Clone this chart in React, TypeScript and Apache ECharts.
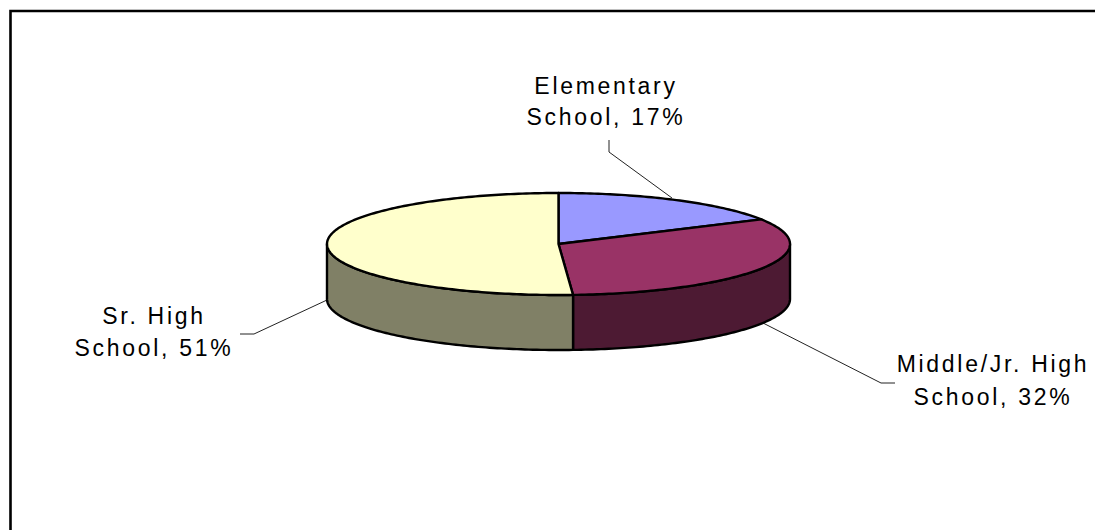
import React, { useEffect, useRef } from "react";
import * as echarts from "echarts";

// Share of each school level, in percent, clockwise from twelve o'clock.
const levels = ["Elementary School", "Middle/Jr. High School", "Sr. High School"];
const shares = [17, 32, 51];
const topColors = ["#9999FF", "#993366", "#FFFFCC"];
const sideColors = ["#4D4D80", "#4D1A33", "#808066"];
const labelLines = [
  ["Elementary", "School, 17%"],
  ["Middle/Jr. High", "School, 32%"],
  ["Sr. High", "School, 51%"],
];

// Tilted disc geometry.
const CX = 558.5;
const CY = 244;
const RX = 231.5;
const RY = 51;
const DEPTH = 55;

const rimPoint = (deg: number, drop = 0) => {
  const a = (deg * Math.PI) / 180;
  return [CX + RX * Math.sin(a), CY - RY * Math.cos(a) + drop];
};

const arcPoints = (from: number, to: number, drop = 0) => {
  const out: number[][] = [];
  const steps = Math.max(2, Math.ceil(Math.abs(to - from)));
  for (let i = 0; i <= steps; i++) out.push(rimPoint(from + ((to - from) * i) / steps, drop));
  return out;
};

const total = shares.reduce((s, v) => s + v, 0);

const renderSlice = (params: any, api: any) => {
  const i = params.dataIndex;
  const value = api.value(1);
  const before = shares.slice(0, i).reduce((s, v) => s + v, 0);
  const start = (before / total) * 360;
  const end = ((before + value) / total) * 360;
  const children: any[] = [];

  // The wall is visible only on the near half of the rim (90° to 270°).
  const wallFrom = Math.max(start, 90);
  const wallTo = Math.min(end, 270);
  if (wallTo > wallFrom) {
    const points = [...arcPoints(wallFrom, wallTo), ...arcPoints(wallTo, wallFrom, DEPTH)];
    children.push({
      type: "polygon",
      shape: { points },
      style: { fill: sideColors[i], stroke: "#000", lineWidth: 2.4, lineJoin: "round" },
    });
  }
  children.push({
    type: "polygon",
    shape: { points: [[CX, CY], ...arcPoints(start, end)] },
    style: { fill: topColors[i], stroke: "#000", lineWidth: 2.4, lineJoin: "round" },
  });
  return { type: "group", children };
};

// Leader lines and their two-line captions, in slice order.
const leaders = [
  { points: [[609, 140], [609, 152], [672, 198]], x: 606, y: [86, 117] },
  { points: [[763, 323], [881, 383], [895, 383]], x: 993, y: [364, 397] },
  { points: [[327, 300], [254, 334], [240, 334]], x: 154, y: [316, 348] },
];

const App = () => {
  const ref = useRef<HTMLDivElement>(null);
  useEffect(() => {
    const chart = echarts.init(ref.current!, undefined, { renderer: "svg" });
    const graphics: any[] = [
      // Chart frame: only the top and left edges fall inside the window.
      { type: "polyline", silent: true, shape: { points: [[10.5, 530], [10.5, 11], [1095, 11]] }, style: { fill: "none", stroke: "#000", lineWidth: 2.6 } },
    ];
    leaders.forEach((l, i) => {
      graphics.push({ type: "polyline", silent: true, shape: { points: l.points }, style: { fill: "none", stroke: "#222", lineWidth: 1 } });
      labelLines[i].forEach((line, k) => {
        graphics.push({
          type: "text",
          silent: true,
          x: l.x,
          y: l.y[k],
          style: { text: line, fill: "#000", font: '23px "Liberation Sans", Arial, sans-serif', textAlign: "center", textVerticalAlign: "middle" },
        });
      });
    });
    chart.setOption({
      animation: false,
      backgroundColor: "#fff",
      graphic: graphics,
      series: [
        {
          type: "custom",
          coordinateSystem: "none",
          silent: true,
          renderItem: renderSlice,
          data: levels.map((name, i) => ({ name, value: [i, shares[i]] })),
          encode: { value: 1 },
        },
      ],
    });
    return () => chart.dispose();
  }, []);
  return <div ref={ref} style={{ position: "fixed", left: 0, top: 0, width: 1095, height: 530, letterSpacing: "2.7px" }} />;
};

export default App;
